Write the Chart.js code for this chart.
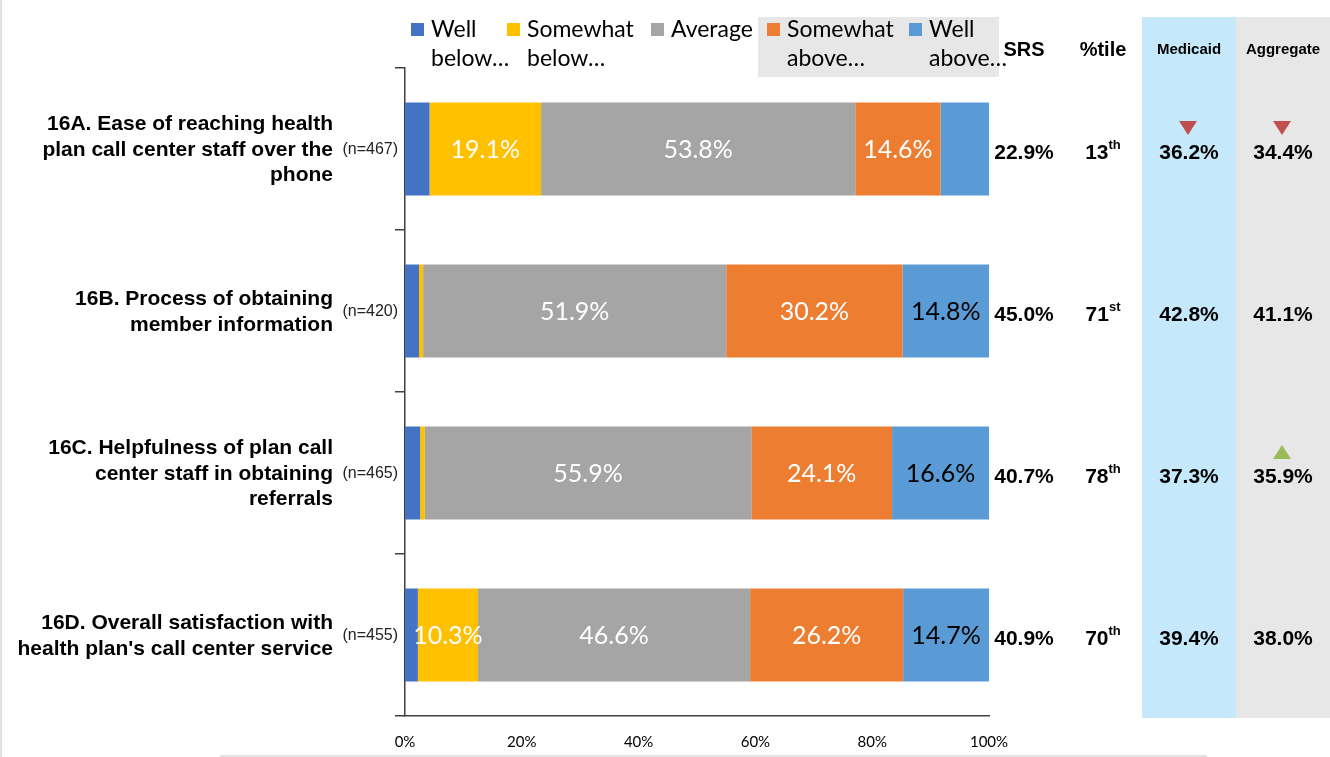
<!DOCTYPE html>
<html>
<head>
<meta charset="utf-8">
<title>Call Center Ratings</title>
<script src="https://cdn.jsdelivr.net/npm/chart.js@4.4.1/dist/chart.umd.min.js"></script>
<style>
  html, body { margin: 0; padding: 0; background: #fff; }
  #wrap { position: relative; width: 1330px; height: 757px; }
</style>
</head>
<body>
<div id="wrap"><canvas id="callCenterChart" width="1330" height="757"></canvas></div>
<script>
// questions (one entry per line of the label)
const questions = [
  ['16A. Ease of reaching health', 'plan call center staff over the', 'phone'],
  ['16B. Process of obtaining', 'member information'],
  ['16C. Helpfulness of plan call', 'center staff in obtaining', 'referrals'],
  ['16D. Overall satisfaction with', "health plan's call center service"]
];
const sampleSizes = [467, 420, 465, 455];

// rating distribution, % of respondents
const wellBelow     = [4.2, 2.4, 2.6, 2.2];
const somewhatBelow = [19.1, 0.7, 0.8, 10.3];
const average       = [53.8, 51.9, 55.9, 46.6];
const somewhatAbove = [14.6, 30.2, 24.1, 26.2];
const wellAbove     = [8.3, 14.8, 16.6, 14.7];

const seriesNames = [['Well', 'below…'], ['Somewhat', 'below…'], ['Average'], ['Somewhat', 'above…'], ['Well', 'above…']];
const seriesColors = ['#4472c4', '#ffc000', '#a5a5a5', '#ed7d31', '#5b9bd5'];

// summary columns
const srsScores = [22.9, 45.0, 40.7, 40.9];
const percentiles = [13, 71, 78, 70];
const medicaidScores = [36.2, 42.8, 37.3, 39.4];
const aggregateScores = [34.4, 41.1, 35.9, 38.0];
const medicaidFlags = ['down', null, null, null];
const aggregateFlags = ['down', null, 'up', null];

const xTicks = [0, 20, 40, 60, 80, 100];

const SANS = '"Liberation Sans", Arial, sans-serif';
const LABEL = 'Lato, "Open Sans", sans-serif';

function ordinal(n) {
  const t = n % 100;
  if (t >= 11 && t <= 13) return 'th';
  return ({ 1: 'st', 2: 'nd', 3: 'rd' })[n % 10] || 'th';
}

function triangle(ctx, x, y, dir, color) {
  ctx.fillStyle = color;
  ctx.beginPath();
  if (dir === 'down') {
    ctx.moveTo(x - 9, y - 7); ctx.lineTo(x + 9, y - 7); ctx.lineTo(x, y + 7);
  } else {
    ctx.moveTo(x - 9, y + 7); ctx.lineTo(x + 9, y + 7); ctx.lineTo(x, y - 7);
  }
  ctx.closePath();
  ctx.fill();
}

// shaded benchmark columns and the legend backdrop
const backdrops = {
  id: 'backdrops',
  beforeDraw(chart) {
    const ctx = chart.ctx;
    const bottom = chart.chartArea.bottom + 2;
    ctx.save();
    ctx.fillStyle = '#c5e9fb';
    ctx.fillRect(1142, 17, 94, bottom - 17);
    ctx.fillStyle = '#e7e7e7';
    ctx.fillRect(1236, 17, 94, bottom - 17);
    ctx.fillRect(758, 17, 241, 60);
    ctx.fillStyle = '#e3e3e3';
    ctx.fillRect(220, 755, 987, 2);
    ctx.fillStyle = '#dde1e6';
    ctx.fillRect(0, 0, 2, 757);
    ctx.restore();
  }
};

// percentages printed inside the segments
const segmentLabels = {
  id: 'segmentLabels',
  afterDatasetsDraw(chart) {
    const ctx = chart.ctx;
    ctx.save();
    ctx.font = '25px ' + LABEL;
    ctx.textAlign = 'center';
    ctx.textBaseline = 'middle';
    chart.data.datasets.forEach((ds, di) => {
      chart.getDatasetMeta(di).data.forEach((bar, i) => {
        const v = ds.data[i];
        if (v < 10) return;
        ctx.fillStyle = di === 4 ? '#000' : '#fff';
        ctx.fillText(v.toFixed(1) + '%', (bar.x + bar.base) / 2, bar.y + 1);
      });
    });
    ctx.restore();
  }
};

// question labels, legend and the summary columns
const annotations = {
  id: 'annotations',
  afterDraw(chart) {
    const ctx = chart.ctx;
    const yScale = chart.scales.y;
    ctx.save();

    // question labels
    questions.forEach((lines, i) => {
      const cy = yScale.getPixelForValue(i) + 1;
      const lh = 25.5;
      ctx.fillStyle = '#000';
      ctx.textAlign = 'right';
      ctx.textBaseline = 'middle';
      ctx.font = 'bold 21px ' + SANS;
      lines.forEach((ln, k) => {
        ctx.fillText(ln, 333, cy + (k - (lines.length - 1) / 2) * lh);
      });
      ctx.font = '16px ' + SANS;
      ctx.fillStyle = '#222';
      ctx.fillText('(n=' + sampleSizes[i] + ')', 398, cy);
    });

    // legend
    const legendX = [411, 507, 651, 767, 909];
    ctx.textAlign = 'left';
    ctx.textBaseline = 'middle';
    ctx.font = '23px ' + LABEL;
    seriesNames.forEach((lines, k) => {
      ctx.fillStyle = seriesColors[k];
      ctx.fillRect(legendX[k], 23, 13, 13);
      ctx.fillStyle = '#000';
      lines.forEach((ln, j) => ctx.fillText(ln, legendX[k] + 20, 30 + j * 29));
    });

    // column headers
    ctx.textAlign = 'center';
    ctx.fillStyle = '#000';
    ctx.font = 'bold 20px ' + SANS;
    ctx.fillText('SRS', 1024, 50);
    ctx.fillText('%tile', 1103, 50);
    ctx.font = 'bold 15px ' + SANS;
    ctx.fillText('Medicaid', 1189, 50);
    ctx.fillText('Aggregate', 1283, 50);

    // column values
    questions.forEach((_, i) => {
      const cy = yScale.getPixelForValue(i) + 4;
      ctx.font = 'bold 21px ' + SANS;
      ctx.textAlign = 'center';
      ctx.fillStyle = '#000';
      ctx.fillText(srsScores[i].toFixed(1) + '%', 1024, cy);
      ctx.fillText(medicaidScores[i].toFixed(1) + '%', 1189, cy);
      ctx.fillText(aggregateScores[i].toFixed(1) + '%', 1283, cy);

      const num = String(percentiles[i]);
      const suf = ordinal(percentiles[i]);
      const wNum = ctx.measureText(num).width;
      ctx.font = 'bold 13px ' + SANS;
      const wSuf = ctx.measureText(suf).width;
      const startX = 1103 - (wNum + wSuf) / 2;
      ctx.textAlign = 'left';
      ctx.fillText(suf, startX + wNum, cy - 8);
      ctx.font = 'bold 21px ' + SANS;
      ctx.fillText(num, startX, cy);

      if (medicaidFlags[i]) triangle(ctx, 1188, cy - 25, medicaidFlags[i], medicaidFlags[i] === 'down' ? '#c0504d' : '#9bbb59');
      if (aggregateFlags[i]) triangle(ctx, 1282, cy - 25, aggregateFlags[i], aggregateFlags[i] === 'down' ? '#c0504d' : '#9bbb59');
    });

    ctx.restore();
  }
};

function drawChart() {
  const ctx = document.getElementById('callCenterChart').getContext('2d');
  const series = [wellBelow, somewhatBelow, average, somewhatAbove, wellAbove];
  new Chart(ctx, {
    type: 'bar',
    data: {
      labels: questions.map(q => q.join(' ')),
      datasets: series.map((values, k) => ({
        label: seriesNames[k].join(' '),
        data: values,
        backgroundColor: seriesColors[k],
        borderWidth: 0,
        barPercentage: 0.574,
        categoryPercentage: 1
      }))
    },
    options: {
      indexAxis: 'y',
      responsive: false,
      animation: false,
      layout: { padding: { left: 395, right: 341, top: 68, bottom: 0 } },
      plugins: { legend: { display: false }, tooltip: { enabled: false } },
      scales: {
        x: {
          stacked: true,
          min: 0,
          max: 100,
          afterBuildTicks: s => { s.ticks = xTicks.map(v => ({ value: v })); },
          ticks: {
            callback: v => v + '%',
            color: '#000',
            font: { family: LABEL, size: 15 },
            padding: 17,
            maxRotation: 0
          },
          grid: { display: false, drawTicks: false },
          border: { display: true, color: '#404040', width: 1.5 },
          afterFit: s => { s.height = 41; }
        },
        y: {
          stacked: true,
          ticks: { display: false },
          grid: { offset: true, drawOnChartArea: false, tickLength: 10, color: '#404040', lineWidth: 1.5 },
          border: { display: true, color: '#404040', width: 1.5 },
          afterFit: s => { s.width = 10; }
        }
      }
    },
    plugins: [backdrops, segmentLabels, annotations]
  });
}

Promise.all([
  document.fonts.load('25px Lato'),
  document.fonts.load('bold 20px "Liberation Sans"'),
  document.fonts.load('16px "Liberation Sans"')
]).then(drawChart, drawChart);
</script>
</body>
</html>
